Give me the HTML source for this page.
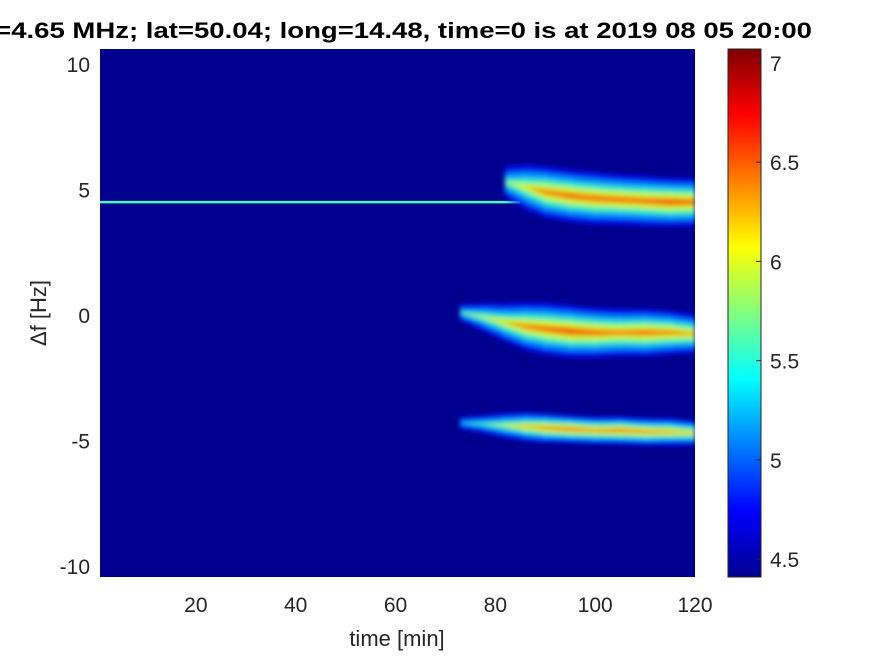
<!DOCTYPE html>
<html><head><meta charset="utf-8"><style>
body{margin:0;background:#fff;}
svg text{font-family:"Liberation Sans",Arial,sans-serif;fill:#262626;}
</style></head><body>
<svg id="c" width="875" height="656" viewBox="0 0 875 656">
<defs>
<linearGradient id="jet" x1="0" y1="1" x2="0" y2="0">
<stop offset="0" stop-color="#00008f"/><stop offset="0.125" stop-color="#0000ff"/>
<stop offset="0.375" stop-color="#00ffff"/><stop offset="0.625" stop-color="#ffff00"/>
<stop offset="0.875" stop-color="#ff0000"/><stop offset="1" stop-color="#800000"/>
</linearGradient>
<clipPath id="pc"><rect x="100" y="49" width="595" height="528"/></clipPath>
<filter id="bl" x="-10%" y="-50%" width="120%" height="200%"><feGaussianBlur stdDeviation="2.5"/></filter>
</defs>
<text x="-14" y="38" font-size="22" font-weight="bold" textLength="826" lengthAdjust="spacingAndGlyphs" style="fill:#000">f=4.65 MHz;  lat=50.04; long=14.48, time=0 is at 2019 08 05 20:00</text>
<rect x="100" y="49" width="595" height="528" fill="#00008f"/>
<g id="marks" clip-path="url(#pc)"></g>
<g id="xt"></g><g id="yt"></g>
<text x="397" y="646" text-anchor="middle" font-size="22">time [min]</text>
<text transform="translate(46,313) rotate(-90)" text-anchor="middle" font-size="22">Δf [Hz]</text>
<rect x="728" y="49" width="33" height="528" fill="url(#jet)" stroke="#262626" stroke-width="1"/>
<g id="ct"></g>
</svg>
<script>
const xTicks=[20,40,60,80,100,120];
const yTicks=[10,5,0,-5,-10];
const cTicks=[4.5,5,5.5,6,6.5,7];
const bandTimes=[73,78,82,86,90,95,100,105,110,115,120];
const band1Center=[null,null,5.3,5.1,4.9,4.75,4.65,4.6,4.55,4.5,4.5];
const band1Width=[null,null,0.9,1.2,1.3,1.3,1.3,1.25,1.25,1.2,1.2];
const band1Peak=[null,null,6.0,6.4,6.8,6.9,6.9,6.9,6.9,7.0,6.9];
const band2Center=[0.1,-0.1,-0.3,-0.45,-0.55,-0.65,-0.7,-0.7,-0.7,-0.7,-0.75];
const band2Width=[0.5,0.8,1.0,1.2,1.3,1.3,1.25,1.2,1.2,1.1,1.0];
const band2Peak=[5.8,6.2,6.5,6.8,6.9,7.0,6.9,6.8,6.9,6.8,6.6];
const band3Center=[-4.3,-4.35,-4.4,-4.45,-4.5,-4.55,-4.6,-4.6,-4.65,-4.65,-4.7];
const band3Width=[0.4,0.55,0.7,0.75,0.75,0.7,0.7,0.7,0.7,0.7,0.65];
const band3Peak=[5.6,5.9,6.2,6.6,6.8,6.9,6.8,6.9,6.8,6.7,6.5];
const lineFreq=4.5, lineStart=0, lineEnd=85, lineVal=5.6;
const xMin=0.8,xMax=120,yMin=-10.44,yMax=10.6,cMin=4.41,cMax=7.07;
const X=t=>100+(t-xMin)/(xMax-xMin)*595;
const Y=f=>577-(f-yMin)/(yMax-yMin)*528;
const CY=v=>577-(v-cMin)/(cMax-cMin)*528;
function jet(v){let s=(v-cMin)/(cMax-cMin);s=Math.max(0,Math.min(1,s));
 const r=Math.max(0,Math.min(1,1.5-Math.abs(4*s-3))),g=Math.max(0,Math.min(1,1.5-Math.abs(4*s-2))),b=Math.max(0,Math.min(1,1.5-Math.abs(4*s-1)));
 return `rgb(${r*255|0},${g*255|0},${b*255|0})`;}
const NS='http://www.w3.org/2000/svg';
function mk(tag,attrs,parent){const e=document.createElementNS(NS,tag);for(const k in attrs)e.setAttribute(k,attrs[k]);parent.appendChild(e);return e;}
const marks=document.getElementById('marks');
const hl=mk('line',{x1:X(lineStart),x2:X(lineEnd),y1:Y(lineFreq),y2:Y(lineFreq),stroke:jet(lineVal),'stroke-width':2.5},marks);


const levels=[4.8,5.2,5.6,6.0,6.4,6.8];
[[band1Center,band1Width,band1Peak,'band-upper'],[band2Center,band2Width,band2Peak,'band-middle'],[band3Center,band3Width,band3Peak,'band-lower']].forEach(([C,W,P,name])=>{
 const g=mk('g',{filter:'url(#bl)'},marks);
 
 
 levels.forEach(lv=>{
  for(let i=0;i<bandTimes.length-1;i++){
   if(C[i]==null||C[i+1]==null)continue;
   const hw=j=>{const p=P[j];if(p<=lv)return 0;return W[j]*Math.pow(1-(lv-4.4)/(p-4.4),1.3);};
   const h0=hw(i),h1=hw(i+1);if(h0===0&&h1===0)continue;
   const pts=[[X(bandTimes[i])-0.5,Y(C[i]+h0)],[X(bandTimes[i+1])+0.5,Y(C[i+1]+h1)],[X(bandTimes[i+1])+0.5,Y(C[i+1]-h1)],[X(bandTimes[i])-0.5,Y(C[i]-h0)]];
   const pg=mk('polygon',{points:pts.map(p=>p.join(',')).join(' '),fill:jet(lv),opacity:0.8},g);
   
   
  }
 });
});
const xt=document.getElementById('xt');
xTicks.forEach(t=>{const e=mk('text',{x:X(t),y:612,'text-anchor':'middle','font-size':21},xt);e.textContent=t;
 });
const yt=document.getElementById('yt');
yTicks.forEach(t=>{const e=mk('text',{x:90,y:Y(t)+8,'text-anchor':'end','font-size':21},yt);e.textContent=t;
 });
const ct=document.getElementById('ct');
cTicks.forEach(t=>{mk('line',{x1:756,x2:761,y1:CY(t),y2:CY(t),stroke:'#262626'},ct);
 const e=mk('text',{x:770,y:CY(t)+8,'font-size':21},ct);e.textContent=t;
 });
</script>
</body></html>
